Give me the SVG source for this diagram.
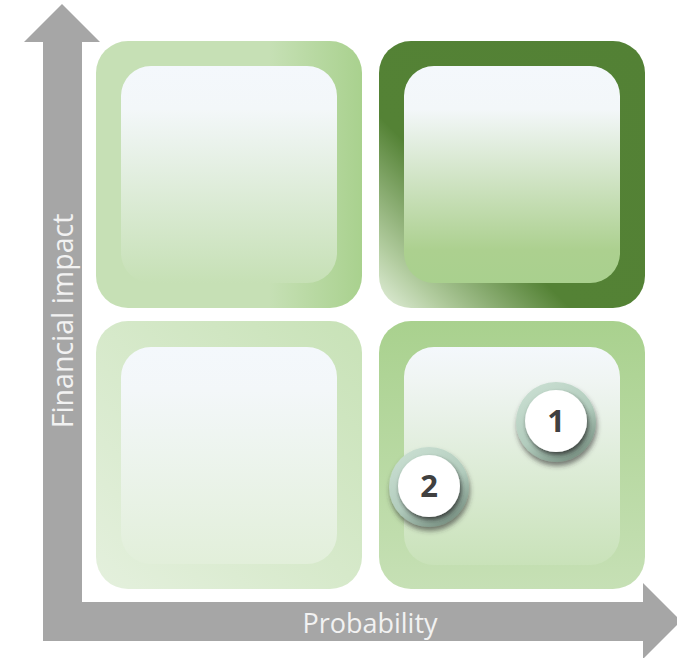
<svg xmlns="http://www.w3.org/2000/svg" width="677" height="658" viewBox="0 0 677 658">
<defs>
<style>
.axis{fill:#a6a6a6}
.axlbl{font-family:"Open Sans","Liberation Sans",sans-serif;font-size:27px;fill:#f2f2f2;text-anchor:middle}
.num{font-family:"Open Sans","Liberation Sans",sans-serif;font-size:31px;font-weight:bold;fill:#404040;text-anchor:middle}
</style>
<linearGradient id="tlOut" x1="0" y1="0" x2="1" y2="0">
<stop offset="0" stop-color="#c6e0b5"/><stop offset="0.65" stop-color="#c6e0b5"/><stop offset="1" stop-color="#a9d18e"/>
</linearGradient>
<linearGradient id="tlIn" x1="0" y1="0" x2="0" y2="1">
<stop offset="0" stop-color="#f4f8fc"/><stop offset="0.2" stop-color="#f3f7f9"/><stop offset="1" stop-color="#c6e0b5"/>
</linearGradient>
<linearGradient id="trOut" x1="0" y1="1" x2="1" y2="0">
<stop offset="0" stop-color="#e3efdb"/><stop offset="0.12" stop-color="#b2cc9f"/><stop offset="0.36" stop-color="#548235"/><stop offset="1" stop-color="#538135"/>
</linearGradient>
<linearGradient id="trIn" x1="0" y1="0" x2="0" y2="1">
<stop offset="0" stop-color="#f4f8fc"/><stop offset="0.2" stop-color="#f3f7f9"/><stop offset="0.85" stop-color="#acd08f"/><stop offset="1" stop-color="#a9d08e"/>
</linearGradient>
<linearGradient id="blOut" x1="0" y1="1" x2="1" y2="0">
<stop offset="0" stop-color="#e4f0dd"/><stop offset="1" stop-color="#c8e2b7"/>
</linearGradient>
<linearGradient id="blIn" x1="0" y1="0" x2="0" y2="1">
<stop offset="0" stop-color="#f4f8fc"/><stop offset="0.2" stop-color="#f3f7f9"/><stop offset="1" stop-color="#e2efda"/>
</linearGradient>
<linearGradient id="brOut" x1="0" y1="0" x2="0" y2="1">
<stop offset="0" stop-color="#a9d18e"/><stop offset="1" stop-color="#c6e0b5"/>
</linearGradient>
<linearGradient id="brIn" x1="0" y1="0" x2="0" y2="1">
<stop offset="0" stop-color="#f4f8fc"/><stop offset="0.15" stop-color="#f0f5f3"/><stop offset="1" stop-color="#c9e2b9"/>
</linearGradient>
<linearGradient id="halo" x1="0.2" y1="0" x2="0.8" y2="1">
<stop offset="0" stop-color="#cadfd2"/><stop offset="0.55" stop-color="#b2ccbd"/><stop offset="1" stop-color="#71897b"/>
</linearGradient>
<filter id="sh" x="-30%" y="-30%" width="160%" height="170%">
<feDropShadow dx="1" dy="4" stdDeviation="2.5" flood-color="#303030" flood-opacity="0.6"/>
</filter>
<filter id="sh2" x="-30%" y="-30%" width="160%" height="170%">
<feDropShadow dx="1.5" dy="3" stdDeviation="2" flood-color="#2a2a2a" flood-opacity="0.75"/>
</filter>
</defs>

<g id="axes">
<path class="axis" d="M62,4 L100,42 L82,42 L82,602 L643,602 L643,583 L681,621 L643,659 L643,641 L43,641 L43,42 L24,42 Z"/>
<text class="axlbl" x="370" y="633">Probability</text>
<text class="axlbl" style="font-size:28.5px" transform="translate(73,321) rotate(-90)">Financial impact</text>
</g>

<g id="q-top-left">
<rect x="96" y="41" width="266" height="267" rx="32" fill="url(#tlOut)"/>
<rect x="121" y="66" width="216" height="217" rx="30" fill="url(#tlIn)"/>
</g>
<g id="q-top-right">
<rect x="379" y="41" width="266" height="267" rx="32" fill="url(#trOut)"/>
<rect x="404" y="66" width="216" height="217" rx="30" fill="url(#trIn)"/>
</g>
<g id="q-bottom-left">
<rect x="96" y="321" width="266" height="268" rx="32" fill="url(#blOut)"/>
<rect x="121" y="347" width="216" height="217" rx="30" fill="url(#blIn)"/>
</g>
<g id="q-bottom-right">
<rect x="379" y="321" width="266" height="268" rx="32" fill="url(#brOut)"/>
<rect x="404" y="347" width="216" height="218" rx="30" fill="url(#brIn)"/>
</g>

<g id="marker-1">
<circle cx="556" cy="422" r="40" fill="url(#halo)" filter="url(#sh)"/>
<circle cx="556" cy="421" r="31" fill="#ffffff" filter="url(#sh2)"/>
<text class="num" x="556" y="432">1</text>
</g>
<g id="marker-2">
<circle cx="429" cy="487" r="40" fill="url(#halo)" filter="url(#sh)"/>
<circle cx="429" cy="486" r="31" fill="#ffffff" filter="url(#sh2)"/>
<text class="num" x="429" y="497">2</text>
</g>
</svg>
